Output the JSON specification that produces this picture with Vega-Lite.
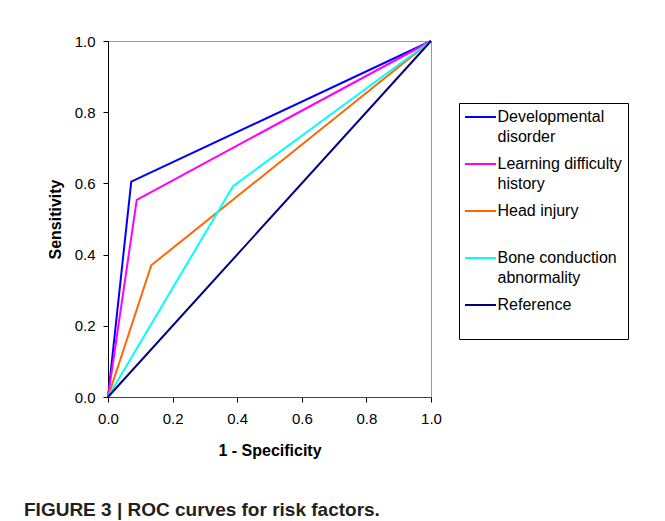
{
  "$schema": "https://vega.github.io/schema/vega-lite/v6.json",
  "width": 323,
  "height": 356,
  "autosize": {"type": "none"},
  "padding": {"left": 108, "top": 41, "right": 234, "bottom": 124},
  "background": "white",
  "title": {
    "text": "FIGURE 3 | ROC curves for  risk factors.",
    "orient": "bottom",
    "anchor": "start",
    "frame": "group",
    "dx": -84,
    "offset": 43,
    "font": "Liberation Sans",
    "fontSize": 19,
    "fontWeight": "bold",
    "color": "#231f20"
  },
  "data": {
    "values": [
      {"series": "Developmental disorder", "i": 0, "fpr": 0, "tpr": 0},
      {"series": "Developmental disorder", "i": 1, "fpr": 0.072, "tpr": 0.605},
      {"series": "Developmental disorder", "i": 2, "fpr": 1, "tpr": 1},
      {"series": "Learning difficulty history", "i": 0, "fpr": 0, "tpr": 0},
      {"series": "Learning difficulty history", "i": 1, "fpr": 0.089, "tpr": 0.554},
      {"series": "Learning difficulty history", "i": 2, "fpr": 1, "tpr": 1},
      {"series": "Head injury", "i": 0, "fpr": 0, "tpr": 0},
      {"series": "Head injury", "i": 1, "fpr": 0.134, "tpr": 0.37},
      {"series": "Head injury", "i": 2, "fpr": 1, "tpr": 1},
      {"series": "Bone conduction abnormality", "i": 0, "fpr": 0, "tpr": 0},
      {"series": "Bone conduction abnormality", "i": 1, "fpr": 0.387, "tpr": 0.592},
      {"series": "Bone conduction abnormality", "i": 2, "fpr": 1, "tpr": 1},
      {"series": "Reference", "i": 0, "fpr": 0, "tpr": 0},
      {"series": "Reference", "i": 1, "fpr": 1, "tpr": 1}
    ]
  },
  "mark": {"type": "line", "strokeWidth": 2, "clip": false},
  "encoding": {
    "x": {
      "field": "fpr",
      "type": "quantitative",
      "scale": {"domain": [0, 1], "nice": false, "zero": false},
      "axis": {
        "title": "1 - Specificity",
        "values": [0, 0.2, 0.4, 0.6, 0.8, 1],
        "format": ".1f",
        "domainColor": "#444",
        "labelPadding": 9,
        "titlePadding": 16
      }
    },
    "y": {
      "field": "tpr",
      "type": "quantitative",
      "scale": {"domain": [0, 1], "nice": false, "zero": false},
      "axis": {
        "title": "Sensitivity",
        "values": [0, 0.2, 0.4, 0.6, 0.8, 1],
        "format": ".1f",
        "labelPadding": 8,
        "titlePadding": 11
      }
    },
    "color": {
      "field": "series",
      "type": "nominal",
      "sort": null,
      "scale": {
        "domain": ["Developmental disorder", "Learning difficulty history", "Head injury", "Bone conduction abnormality", "Reference"],
        "range": ["#0000FF", "#FF00FF", "#FF6600", "#00FFFF", "#000080"]
      },
      "legend": {
        "title": null,
        "orient": "none",
        "legendX": 351,
        "legendY": 62,
        "direction": "vertical",
        "symbolType": "M-3.1,0H3.1",
        "symbolSize": 100,
        "symbolOffset": 7.5,
        "symbolStrokeWidth": 2,
        "labelFont": "Liberation Sans",
        "labelFontSize": 16,
        "labelColor": "#000",
        "labelLimit": 300,
        "labelOffset": 9,
        "rowPadding": 11,
        "padding": 6,
        "strokeColor": "#000",
        "fillColor": "white",
        "labelExpr": "datum.label == 'Developmental disorder' ? ['Developmental', 'disorder'] : datum.label == 'Learning difficulty history' ? ['Learning difficulty', 'history'] : datum.label == 'Bone conduction abnormality' ? ['Bone conduction', 'abnormality'] : [datum.label, '']"
      }
    },
    "order": {"field": "i", "type": "quantitative"}
  },
  "config": {
    "view": {"stroke": "#999", "strokeWidth": 1},
    "style": {"guide-label": {"lineHeight": 20}},
    "axis": {
      "labelFont": "Liberation Sans",
      "labelFontSize": 15,
      "labelColor": "#000",
      "titleFont": "Liberation Sans",
      "titleFontSize": 16,
      "titleFontWeight": "bold",
      "titleColor": "#000",
      "tickColor": "#000",
      "tickSize": 5,
      "grid": false,
      "domainColor": "#000",
      "labelFlush": false
    }
  }
}
